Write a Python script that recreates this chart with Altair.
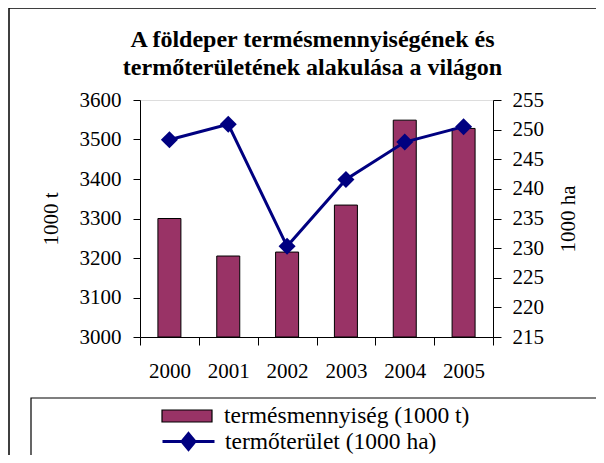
import altair as alt
import pandas as pd

years = ["2000", "2001", "2002", "2003", "2004", "2005"]
production = [3300, 3205, 3215, 3334, 3549, 3528]
area = [248.3, 250.9, 230.3, 241.6, 247.9, 250.5]
left_ticks = [3000, 3100, 3200, 3300, 3400, 3500, 3600]
right_ticks = [215, 220, 225, 230, 235, 240, 245, 250, 255]
bar_label = "termésmennyiség (1000 t)"
line_label = "termőterület (1000 ha)"
title_lines = ["A földeper termésmennyiségének és", "termőterületének alakulása a világon"]

df = pd.DataFrame({
    "year": years,
    "production": production,
    "area": area,
    "s_bar": [bar_label] * len(years),
    "s_line": [line_label] * len(years),
})

FONT = "'Liberation Serif', 'Times New Roman', serif"
BAR = "#993366"
NAVY = "#000080"

x_enc = alt.X(
    "year:N", title=None,
    scale=alt.Scale(paddingInner=0, paddingOuter=0),
    axis=alt.Axis(tickBand="extent", labelAngle=0, tickSize=8, labelPadding=15,
                  labelFont=FONT, labelFontSize=21, labelColor="black",
                  domainColor="black", tickColor="black", grid=False),
)

y_left = alt.Y(
    "production:Q",
    scale=alt.Scale(domain=[3000, 3600], nice=False, zero=False),
    axis=alt.Axis(orient="left", values=left_ticks, format="d", title="1000 t", grid=False,
                  tickSize=7, labelPadding=12, labelFont=FONT, labelFontSize=21,
                  labelColor="black", titleFont=FONT, titleFontSize=21,
                  titleFontWeight="normal", titleColor="black", titlePadding=18,
                  domainColor="black", tickColor="black"),
)

y_right = alt.Y(
    "area:Q",
    scale=alt.Scale(domain=[215, 255], nice=False, zero=False),
    axis=alt.Axis(orient="right", values=right_ticks, format="d", title="1000 ha", grid=False,
                  tickSize=8, labelPadding=11, labelFont=FONT, labelFontSize=21,
                  labelColor="black", titleFont=FONT, titleFontSize=21,
                  titleFontWeight="normal", titleColor="black", titlePadding=14,
                  titleAngle=270, titleBaseline="top",
                  domainColor="black", tickColor="black"),
)

bars = alt.Chart(df).mark_bar(size=23, stroke="black", strokeWidth=1).encode(
    x=x_enc,
    y=y_left,
    y2=alt.datum(3000),
    fill=alt.Fill("s_bar:N", scale=alt.Scale(range=[BAR]),
                  legend=alt.Legend(title=None, orient="none", legendX=21, legendY=290,
                                    symbolType="M-1,-0.24H1V0.24H-1Z", symbolSize=2500,
                                    symbolStrokeColor="black", symbolStrokeWidth=1.2,
                                    symbolOpacity=1, labelFont=FONT, labelFontSize=23.5,
                                    labelColor="black", labelOffset=11, labelLimit=0,
                                    padding=0)),
)

line = alt.Chart(df).mark_line(strokeWidth=3).encode(
    x=x_enc,
    y=y_right,
    stroke=alt.Stroke("s_line:N", scale=alt.Scale(range=[NAVY]),
                      legend=alt.Legend(title=None, orient="none", legendX=21, legendY=314,
                                        symbolType="M-1,0H1M0,-0.3L0.25,0L0,0.3L-0.25,0Z",
                                        symbolSize=2704, symbolStrokeWidth=3,
                                        symbolFillColor=NAVY, symbolOpacity=1,
                                        labelFont=FONT, labelFontSize=23.5,
                                        labelColor="black", labelOffset=9, labelLimit=0,
                                        padding=0)),
)

points = alt.Chart(df).mark_point(shape="diamond", filled=True, size=290, color=NAVY, opacity=1).encode(
    x=x_enc,
    y=y_right,
)

frame_df = pd.DataFrame({"k": [0]})
outer_frame = alt.Chart(frame_df).mark_rect(fill="transparent", stroke="black", strokeWidth=1.5).encode(
    x=alt.value(-131), x2=alt.value(480), y=alt.value(-92), y2=alt.value(380)
)
legend_box = alt.Chart(frame_df).mark_rect(fill="transparent", stroke="black", strokeWidth=1.2).encode(
    x=alt.value(-109), x2=alt.value(458), y=alt.value(298), y2=alt.value(358)
)

chart = alt.layer(
    outer_frame, legend_box, bars, alt.layer(line, points)
).resolve_scale(y="independent", fill="independent", stroke="independent").properties(
    width=353,
    height=237,
    autosize=alt.AutoSizeParams(type="none"),
    padding={"left": 132, "top": 92, "right": 103, "bottom": 118},
    title=alt.Title(text=title_lines, font=FONT, fontSize=24, fontWeight="bold",
                    color="black", lineHeight=28, anchor="middle", offset=0, dy=73, dx=-4,
                    frame="group"),
).configure_view(stroke="black", strokeWidth=1).configure(background="white")

chart.save("out.html", embed_options={"renderer": "svg", "actions": False})
